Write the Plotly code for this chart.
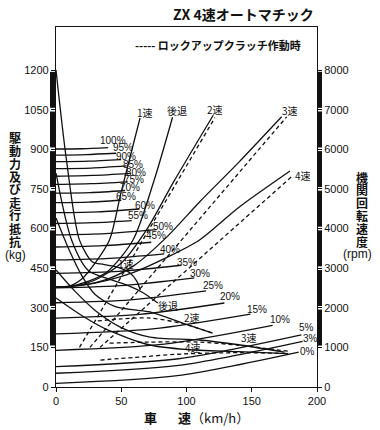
import plotly.graph_objects as go

# ---------------- data ----------------
speed_ticks = [0, 50, 100, 150, 200]
force_ticks = [0, 150, 300, 450, 600, 750, 900, 1050, 1200]
rpm_ticks = [0, 1000, 2000, 3000, 4000, 5000, 6000, 7000, 8000]

grade_labels = ["100%", "95%", "90%", "85%", "80%", "75%", "70%", "65%", "60%", "55%", "50%",
                "45%", "40%", "35%", "30%", "25%", "20%", "15%", "10%", "5%", "3%", "0%"]
grade_v = [[0, 20, 40], [0, 23, 46], [0, 25, 50], [0, 27, 54], [0, 28, 57], [0, 27, 55],
           [0, 26, 53], [0, 25, 50], [0, 32, 64], [0, 29, 58], [0, 38, 77], [0, 36, 73],
           [0, 41, 83], [0, 48, 96], [0, 53, 106], [0, 57, 115], [0, 64, 129], [0, 74, 149],
           [0, 83, 166], [0, 94, 188], [0, 94, 189], [0, 93, 186]]
grade_F = [[901, 902, 906], [878, 880, 885], [853, 855, 861], [827, 829, 837], [798, 801, 809],
           [767, 770, 777], [734, 736, 744], [698, 700, 707], [660, 663, 674], [619, 622, 630],
           [576, 581, 596], [530, 535, 548], [481, 487, 504], [430, 438, 461], [375, 385, 413],
           [319, 330, 364], [261, 275, 318], [201, 220, 276], [139, 162, 233], [77, 107, 197],
           [52, 82, 173], [14, 43, 132]]
grade_label_v = [44, 51, 54, 59, 61, 60, 57, 54, 68, 63, 82, 77, 87, 100, 110, 120, 133, 154, 172, 192, 195, 193]
grade_label_F = [935, 905, 871, 844, 814, 787, 757, 723, 689, 651, 609, 572, 522, 473, 431, 386, 341, 295, 257, 227, 185, 136]

# driving force, torque-converter range (solid)
f1_v = [0, 8, 18, 28, 34, 47, 57, 62, 64.5]
f1_F = [1200, 860, 556, 473, 466, 454, 431, 400, 367]
fr_v = [0, 12, 25, 40, 55, 67, 78]
fr_F = [810, 556, 440, 410, 385, 356, 318]
f2_v = [0, 10, 20, 30, 45, 60, 72, 97, 120]
f2_F = [640, 520, 420, 350, 305, 292, 284, 242, 204]
f3_v = [0, 15, 30, 50, 72, 110, 140, 175]
f3_F = [443, 360, 290, 225, 189, 178, 160, 132]
f4_v = [0, 20, 40, 72, 100, 140, 178]
f4_F = [337, 270, 215, 159, 142, 134, 126]
# driving force, lock-up (dashed)
l2f_v = [32, 50, 72, 97, 120]
l2f_F = [250, 258, 261, 240, 204]
l3f_v = [41, 72, 110, 140, 180]
l3f_F = [166, 170, 170, 158, 134]
l4f_v = [34, 60, 97, 140, 176]
l4f_F = [102, 112, 125, 130, 127]

# engine speed (rpm), torque-converter range (solid)
r1_v = [0, 9, 20, 30, 41, 50, 64.4]
r1_rpm = [2520, 2530, 2730, 3130, 3710, 4930, 6790]
rr_v = [0, 9, 25, 40, 59, 75, 89.3]
rr_rpm = [2520, 2530, 2670, 2930, 3710, 5200, 6810]
r2_v = [0, 10, 30, 50, 70, 90, 120.5]
r2_rpm = [2520, 2530, 2700, 3130, 4000, 5170, 6860]
r3_v = [0, 20, 40, 60, 85, 110, 140, 172.9]
r3_rpm = [2520, 2570, 2730, 3070, 3790, 4670, 5670, 6820]
r4_v = [0, 20, 40, 60, 85, 110, 140, 179.3]
r4_rpm = [2520, 2570, 2700, 2900, 3270, 3710, 4530, 5450]
# engine speed, lock-up (dashed)
l2r_v = [18, 121.8]
l2r_rpm = [1000, 6800]
l3r_v = [26, 176.8]
l3r_rpm = [1000, 6820]
l4r_v = [33.7, 180.6]
l4r_rpm = [1000, 5310]

top_labels = ["1速", "後退", "2速", "3速", "4速"]
top_label_v = [68, 93, 122, 179, 189]
top_label_rpm = [6940, 6990, 7010, 6990, 5350]
low_labels = ["1速", "後退", "2速", "3速", "4速"]
low_label_v = [54, 86, 104, 148, 105]
low_label_F = [469, 310, 265, 189, 151]

left_title = list("駆動力及び走行抵抗")
right_title = list("機関回転速度")

# ---------------- figure ----------------
KG_TOP = 1363
RPM_PER_KG = 8000 / 1200
BLK = "#111111"
FONT = "Liberation Sans, Arial, sans-serif"
JFONT = "Noto Sans CJK JP, sans-serif"
PW, PH, PX0, PY0 = 261.0, 360.0, 56.0, 27.0   # plot box on the page


def px(x):
    return (x - PX0) / PW


def py(y):
    return (PY0 + PH - y) / PH


fig = go.Figure()


def add(v, y, dash="solid", axis="y", w=1.3):
    fig.add_trace(go.Scatter(x=v, y=y, mode="lines", yaxis=axis,
                             line=dict(color=BLK, width=w, dash=dash, shape="spline", smoothing=0.8),
                             hoverinfo="skip", showlegend=False))


for v, F in zip(grade_v, grade_F):
    add(v, F)
for v, F in [(f1_v, f1_F), (fr_v, fr_F), (f2_v, f2_F), (f3_v, f3_F), (f4_v, f4_F)]:
    add(v, F)
for v, F in [(l2f_v, l2f_F), (l3f_v, l3f_F), (l4f_v, l4f_F)]:
    add(v, F, dash="4px,3px")
for v, r in [(r1_v, r1_rpm), (rr_v, rr_rpm), (r2_v, r2_rpm), (r3_v, r3_rpm), (r4_v, r4_rpm)]:
    add(v, r, axis="y2")
for v, r in [(l2r_v, l2r_rpm), (l3r_v, l3r_rpm), (l4r_v, l4r_rpm)]:
    add(v, r, dash="4px,3px", axis="y2")

ann = []
for t, v, F in zip(grade_labels, grade_label_v, grade_label_F):
    ann.append(dict(x=v, y=F, text=t, showarrow=False, font=dict(size=10, family=FONT, color=BLK)))
for t, v, r in zip(top_labels, top_label_v, top_label_rpm):
    ann.append(dict(x=v, y=r, yref="y2", text=t, showarrow=False, font=dict(size=10, family=JFONT, color=BLK)))
for t, v, F in zip(low_labels, low_label_v, low_label_F):
    ann.append(dict(x=v, y=F, text=t, showarrow=False, font=dict(size=10, family=JFONT, color=BLK)))


def pann(x, y, text, size, family=JFONT, anchor="center"):
    ann.append(dict(x=px(x), y=py(y), xref="paper", yref="paper", xanchor=anchor, yanchor="middle",
                    text=text, showarrow=False, font=dict(size=size, family=family, color=BLK)))


# vertical axis titles, one character per line
for i, ch in enumerate(left_title):
    pann(15, 137 + 13 * i, "<b>" + ch + "</b>", 12)
pann(15, 255, "(kg)", 12, FONT)
for i, ch in enumerate(right_title):
    pann(362, 177 + 12.8 * i, "<b>" + ch + "</b>", 12)
pann(357, 254, "(rpm)", 12, FONT)

pann(316, 14, "<b>ZX 4速オートマチック</b>", 14, anchor="right")
pann(133, 45, "<b>----- ロックアップクラッチ作動時</b>", 11, anchor="left")
pann(150, 418, "<b>車</b>", 13)
pann(176, 418, "<b>速</b>（km/h）", 13, anchor="left")

shapes = []
# thick scale bars along both vertical axes, split at ticks
for a, b in zip(force_ticks[1:-1], force_ticks[2:]):
    shapes.append(dict(type="rect", xref="paper", yref="y", x0=-6 / PW, x1=-1 / PW, y0=a + 7, y1=b - 7,
                       fillcolor=BLK, line=dict(width=0)))
for a, b in zip(rpm_ticks[1:-1], rpm_ticks[2:]):
    shapes.append(dict(type="rect", xref="paper", yref="y2", x0=1.0, x1=1 + 5 / PW, y0=a + 45, y1=b - 45,
                       fillcolor=BLK, line=dict(width=0)))

fig.update_layout(
    width=380, height=430,
    margin=dict(l=56, r=63, t=27, b=43, autoexpand=False),
    paper_bgcolor="white", plot_bgcolor="white",
    font=dict(family=FONT, color=BLK, size=11),
    xaxis=dict(range=[0, 200], tickvals=speed_ticks, ticks="outside", ticklen=4, tickcolor=BLK,
               showline=True, linecolor=BLK, linewidth=1.2, mirror=True, showgrid=False, zeroline=False,
               tickfont=dict(size=11)),
    yaxis=dict(range=[0, KG_TOP], tickvals=force_ticks, ticks="outside", ticklen=4, tickcolor=BLK,
               showline=True, linecolor=BLK, linewidth=1.2, mirror=True, showgrid=False, zeroline=False,
               tickfont=dict(size=11)),
    yaxis2=dict(range=[0, KG_TOP * RPM_PER_KG], tickvals=rpm_ticks, overlaying="y", side="right",
                ticks="outside", ticklen=4, tickcolor=BLK, showgrid=False, zeroline=False,
                showline=False, tickfont=dict(size=11)),
    annotations=ann, shapes=shapes,
)
# remove the browser's default 8 px page margin so the figure sits at the window's corner
fig.write_html("out.html", config={"displayModeBar": False},
               post_script="document.body.style.margin='0px';")
